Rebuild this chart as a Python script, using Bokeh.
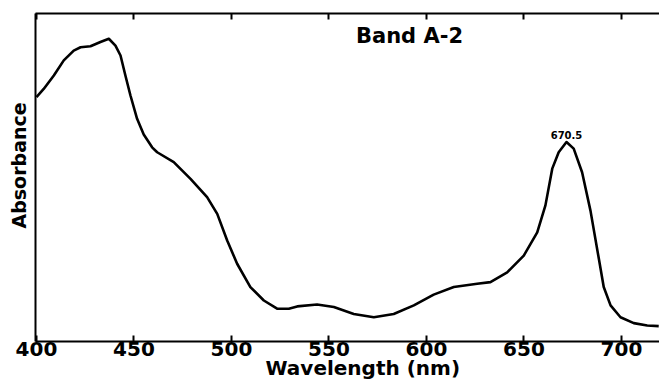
from bokeh.plotting import figure
from bokeh.models import Range1d, LinearAxis, Label, FixedTicker, CustomLabelingPolicy, Title
from bokeh.embed import file_html
from bokeh.resources import INLINE

wavelength = [400.0, 403.7, 408.9, 414.0, 419.1, 422.6, 427.7, 432.8, 437.1, 440.5,
              443.1, 445.6, 448.2, 451.6, 455.0, 459.3, 461.9, 470.4, 479.0, 487.5,
              492.7, 497.8, 502.9, 509.7, 516.6, 523.4, 529.4, 533.7, 543.9, 552.5,
              562.7, 573.0, 583.2, 593.5, 603.7, 614.0, 626.0, 632.8, 641.4, 649.9,
              656.8, 661.0, 664.5, 667.8, 671.8, 675.5, 679.8, 684.1, 688.4, 690.9,
              694.4, 699.5, 706.3, 713.2, 719.1]
absorbance = [0.745, 0.770, 0.811, 0.857, 0.887, 0.897, 0.900, 0.913, 0.923, 0.902,
              0.872, 0.811, 0.750, 0.679, 0.631, 0.592, 0.577, 0.547, 0.496, 0.440,
              0.389, 0.308, 0.237, 0.166, 0.125, 0.100, 0.100, 0.107, 0.113, 0.105,
              0.084, 0.074, 0.084, 0.110, 0.143, 0.166, 0.176, 0.181, 0.211, 0.262,
              0.333, 0.415, 0.527, 0.577, 0.608, 0.588, 0.516, 0.399, 0.252, 0.166,
              0.110, 0.074, 0.056, 0.049, 0.047]
x_ticks = [400, 450, 500, 550, 600, 650, 700]
peak_label = "670.5"
title_text = "Band A-2"
x_label = "Wavelength (nm)"
y_label = "Absorbance"

FONT = "DejaVu Sans"

p = figure(width=659, height=381, output_backend="svg", toolbar_location=None,
           x_range=Range1d(399.5, 719.5), y_range=Range1d(0, 1),
           min_border_left=35, min_border_right=0, min_border_top=13, min_border_bottom=40)
p.outline_line_color = None
p.grid.visible = False
p.background_fill_color = "white"
p.border_fill_color = "white"

p.line(wavelength, absorbance, line_color="black", line_width=2.6, line_join="round")

xa = p.xaxis[0]
xa.ticker = FixedTicker(ticks=x_ticks)
xa.major_tick_in = 6
xa.major_tick_out = 0
xa.minor_tick_line_color = None
xa.axis_line_width = 2
xa.axis_line_color = "black"
xa.major_tick_line_width = 2
xa.major_tick_line_color = "black"
xa.major_label_text_font = FONT
xa.major_label_text_font_style = "bold"
xa.major_label_text_font_size = "20px"
xa.major_label_text_color = "black"
xa.major_label_standoff = 0

ya = p.yaxis[0]
ya.ticker = FixedTicker(ticks=[])
ya.major_tick_line_color = None
ya.minor_tick_line_color = None
ya.axis_line_width = 2
ya.axis_line_color = "black"
ya.major_label_standoff = 0
ya.axis_label_standoff = 0

top = LinearAxis(ticker=FixedTicker(ticks=x_ticks), major_tick_in=6, major_tick_out=0,
                 minor_tick_line_color=None, axis_line_width=2, axis_line_color="black",
                 major_tick_line_width=2, major_tick_line_color="black",
                 major_label_standoff=0, axis_label_standoff=0,
                 major_label_policy=CustomLabelingPolicy(code="return []"))
p.add_layout(top, "above")

# axis titles as Title annotations so that they can be offset along the frame
p.add_layout(Title(text=x_label, align="left", offset=230, standoff=-9,
                   text_font=FONT, text_font_style="bold", text_font_size="20px",
                   text_color="black"), "below")
p.add_layout(Title(text=y_label, align="left", offset=113, standoff=7,
                   vertical_align="top",
                   text_font=FONT, text_font_style="bold", text_font_size="19px",
                   text_color="black"), "left")

peak_i = absorbance.index(max(absorbance[30:]))
p.add_layout(Label(x=wavelength[peak_i], y=absorbance[peak_i], text=peak_label, text_font=FONT,
                   text_font_style="bold", text_font_size="10px", text_color="black",
                   text_align="center", text_baseline="alphabetic", y_offset=7))
p.add_layout(Label(x=591.3, y=0.930, text=title_text, text_font=FONT,
                   text_font_style="bold", text_font_size="21px", text_color="black",
                   text_align="center", text_baseline="middle"))

open("out.html", "w").write(file_html(p, INLINE))
